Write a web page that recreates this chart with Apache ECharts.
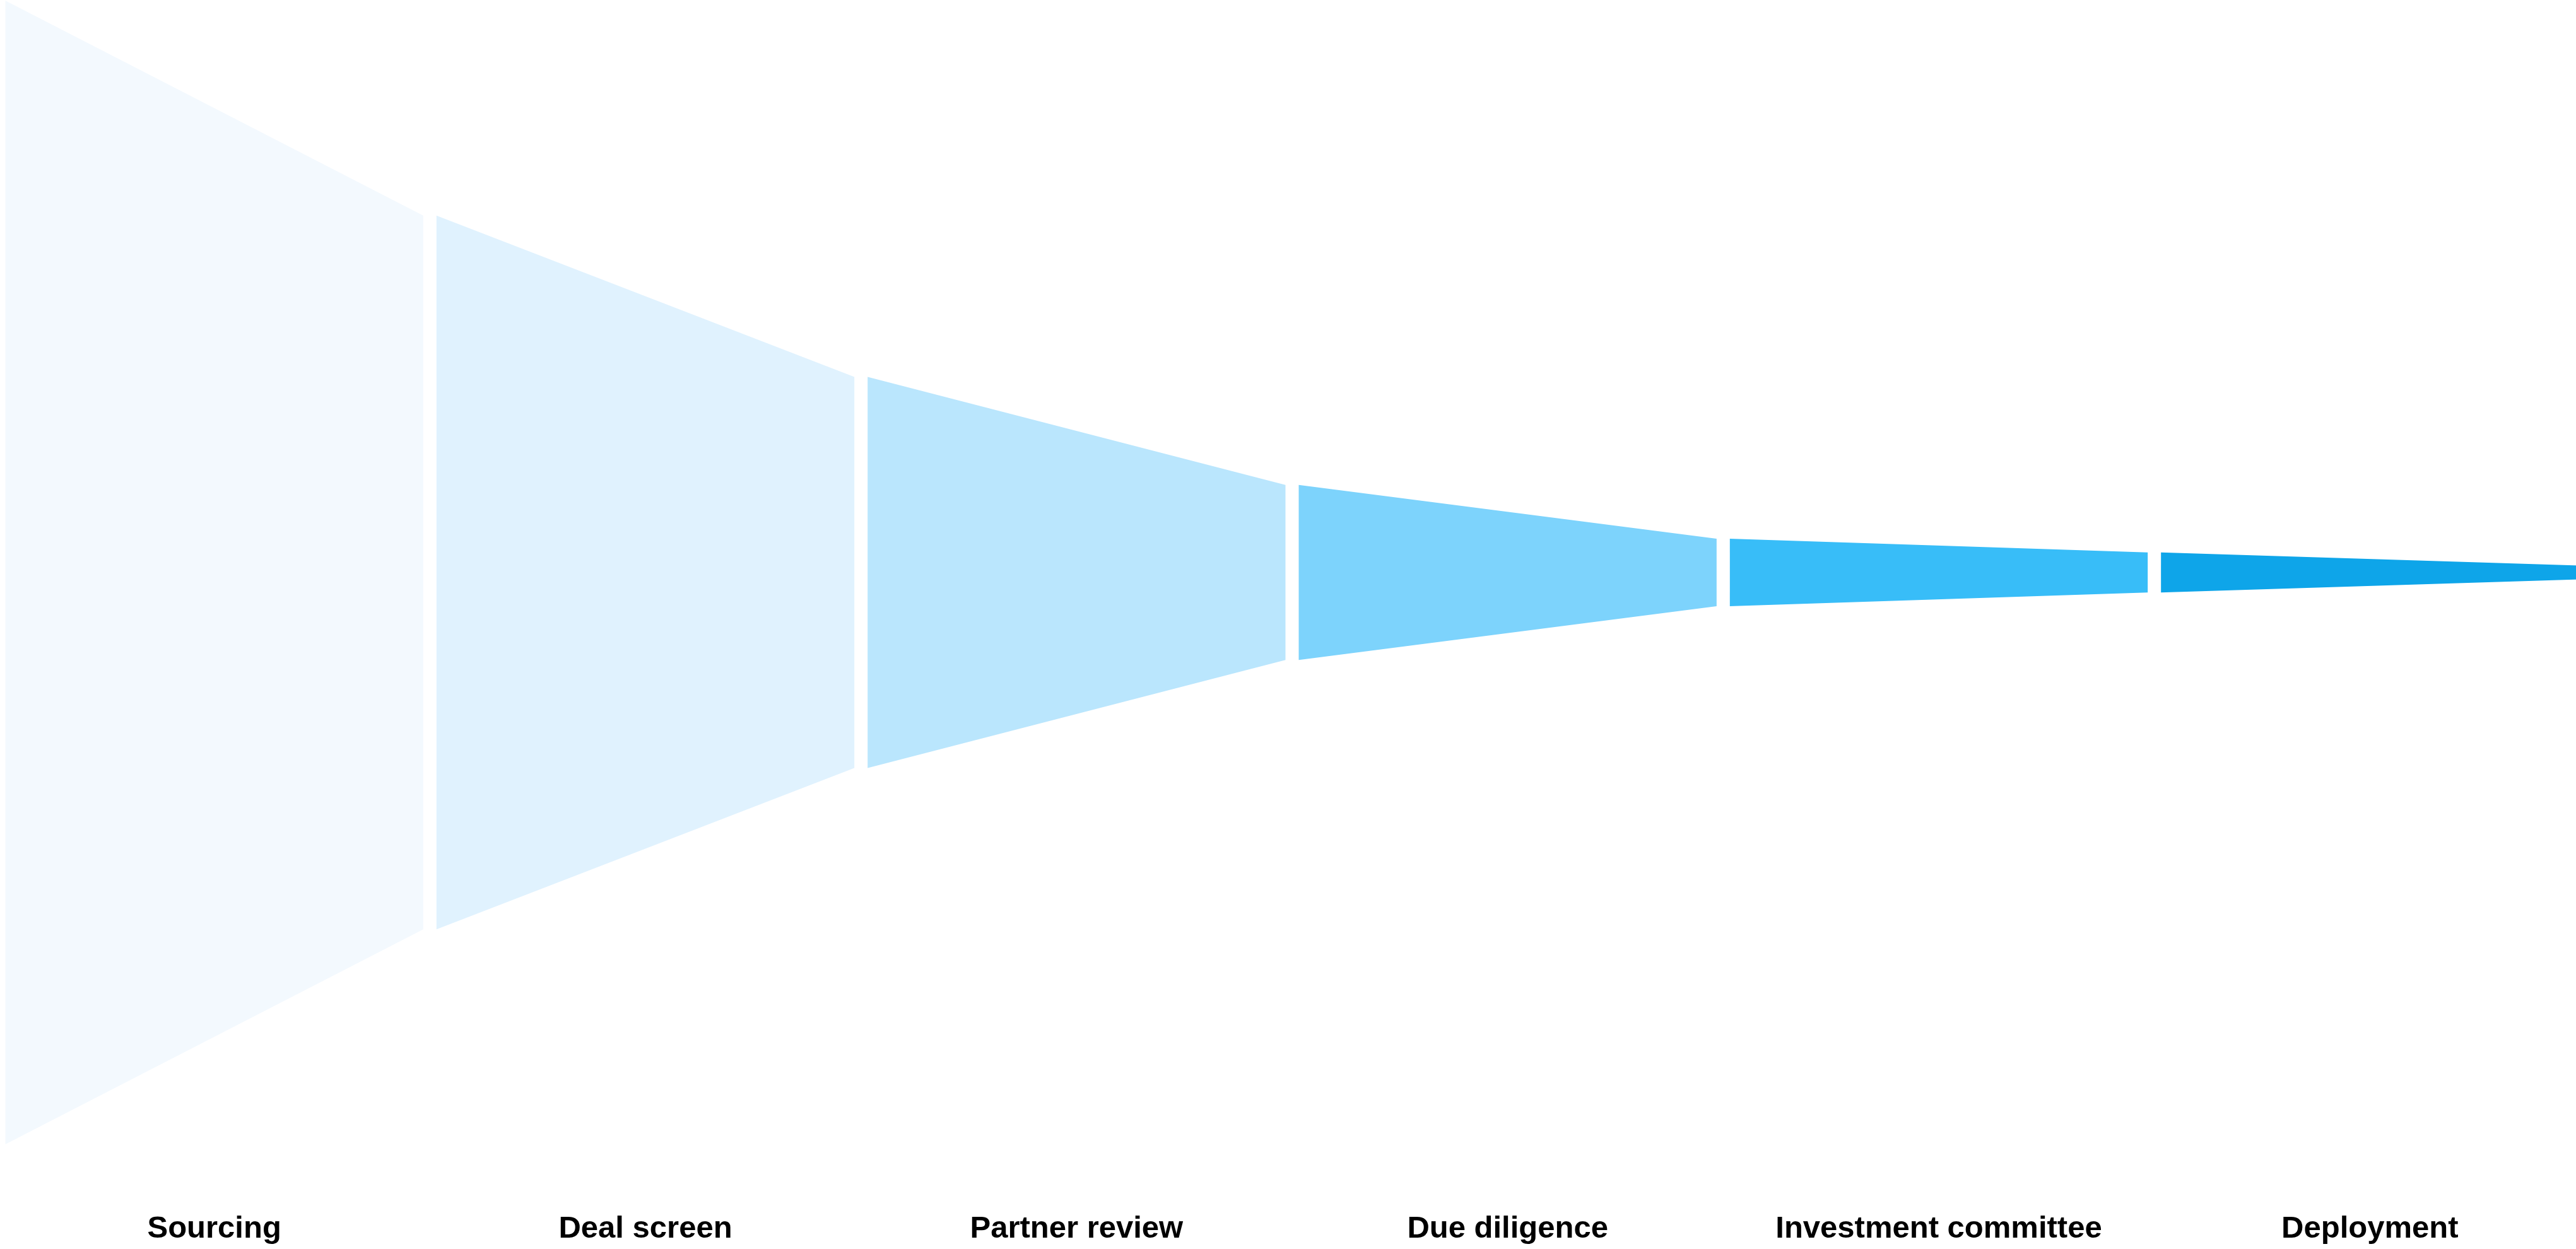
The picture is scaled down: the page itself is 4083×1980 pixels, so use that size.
<!DOCTYPE html>
<html>
<head>
<meta charset="utf-8">
<style>
  html, body { margin: 0; padding: 0; background: #ffffff; overflow: hidden; width: 4083px; height: 1980px; }
  #chart { position: absolute; left: -2.5px; top: 0; width: 4100px; height: 1980px; }
</style>
<script src="https://cdn.jsdelivr.net/npm/echarts@6/dist/echarts.min.js"></script>
</head>
<body>
<div id="chart"></div>
<script>
// Stage names (x-axis categories)
var stages = ["Sourcing", "Deal screen", "Partner review", "Due diligence", "Investment committee", "Deployment"];
// Relative volume entering each stage (% of sourced deals)
var stageValues = [100, 62.4, 34.2, 15.3, 5.9, 3.5];
// Volume at the exit of the last stage
var exitValue = 1.2;
// Stage colours
var stageColors = ["#F3F9FE", "#E0F2FE", "#BAE6FD", "#7DD3FC", "#38BDF8", "#0EA5E9"];

var seriesData = stages.map(function (name, i) {
  var right = i < stages.length - 1 ? stageValues[i + 1] : exitValue;
  return [i, stageValues[i], right];
});

var chart = echarts.init(document.getElementById('chart'), null, { renderer: 'canvas' });
var GAP = 21;

chart.setOption({
  backgroundColor: '#ffffff',
  animation: false,
  grid: { left: 0, right: 0, top: 1, bottom: 166, containLabel: false },
  xAxis: {
    type: 'category',
    data: stages,
    boundaryGap: true,
    axisLine: { show: false },
    axisTick: { show: false },
    splitLine: { show: false },
    axisLabel: {
      interval: 0,
      margin: 110,
      color: '#000000',
      fontFamily: 'Liberation Sans',
      fontWeight: 'bold',
      fontSize: 49
    }
  },
  yAxis: {
    type: 'value',
    min: -50,
    max: 50,
    show: false,
    splitLine: { show: false }
  },
  series: [{
    type: 'custom',
    data: seriesData,
    encode: { x: 0, y: [1, 2] },
    renderItem: function (params, api) {
      var i = api.value(0);
      var left = api.value(1);
      var right = api.value(2);
      var bw = api.size([1, 0])[0];
      var c = api.coord([i, 0]);
      var x0 = c[0] - bw / 2 + GAP / 2;
      var x1 = c[0] + bw / 2 - GAP / 2;
      var lt = api.coord([i, left / 2])[1];
      var lb = api.coord([i, -left / 2])[1];
      var rt = api.coord([i, right / 2])[1];
      var rb = api.coord([i, -right / 2])[1];
      return {
        type: 'polygon',
        shape: { points: [[x0, lt], [x1, rt], [x1, rb], [x0, lb]] },
        style: { fill: stageColors[i] }
      };
    }
  }]
});
</script>
</body>
</html>
